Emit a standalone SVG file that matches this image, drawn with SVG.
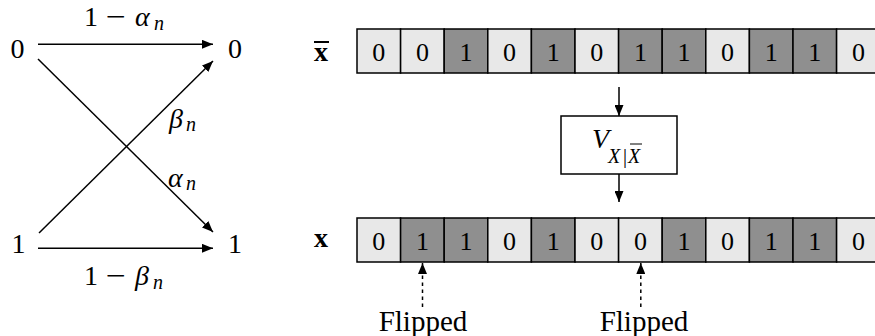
<svg xmlns="http://www.w3.org/2000/svg" width="875" height="336" viewBox="0 0 875 336">
<defs>
<marker id="ah" viewBox="0 0 11 9" refX="11" refY="4.5" markerWidth="11" markerHeight="9" orient="auto" markerUnits="userSpaceOnUse">
<path d="M0,0 L11,4.5 L0,9 z" fill="#000"/>
</marker>
</defs>
<style>
.t{font-family:"Liberation Serif","Times New Roman",serif;fill:#000}
.m{font-size:28px}
.i{font-style:italic}
.s{font-size:20px}
.c{text-anchor:middle}
.ln{stroke:#000;stroke-width:1.5;fill:none}
.d{font-size:26px;text-anchor:middle}
.b0{fill:#e8e8e8;stroke:#000;stroke-width:1.5}
.b1{fill:#8f8f8f;stroke:#000;stroke-width:1.5}
</style>
<rect width="875" height="336" fill="#fff"/>

<g id="connectors">
<line class="ln" x1="38" y1="44.3" x2="213" y2="44.3" marker-end="url(#ah)"/>
<line class="ln" x1="38" y1="248.3" x2="213" y2="248.3" marker-end="url(#ah)"/>
<line class="ln" x1="38" y1="59" x2="213" y2="232" marker-end="url(#ah)"/>
<line class="ln" x1="39" y1="233" x2="213" y2="61" marker-end="url(#ah)"/>
<line class="ln" x1="619" y1="87" x2="619" y2="116" marker-end="url(#ah)"/>
<line class="ln" x1="619" y1="174" x2="619" y2="202" marker-end="url(#ah)"/>
<line class="ln" x1="422.5" y1="307" x2="422.5" y2="263" stroke-dasharray="3.5 3.5" marker-end="url(#ah)"/>
<line class="ln" x1="640.8" y1="307" x2="640.8" y2="263" stroke-dasharray="3.5 3.5" marker-end="url(#ah)"/>
</g>

<g id="edge-labels">
<text class="t m" x="84" y="26">1</text>
<text class="t m" x="106" y="26" textLength="20" lengthAdjust="spacingAndGlyphs">−</text>
<text class="t m i" x="135" y="26">α</text>
<text class="t s i" x="154" y="30">n</text>
<text class="t m" x="84" y="285">1</text>
<text class="t m" x="106" y="285" textLength="20" lengthAdjust="spacingAndGlyphs">−</text>
<text class="t m i" x="135" y="285">β</text>
<text class="t s i" x="153" y="289">n</text>
<text class="t m i" x="169" y="128">β</text>
<text class="t s i" x="186" y="131">n</text>
<text class="t m i" x="168" y="187">α</text>
<text class="t s i" x="186" y="190">n</text>
</g>

<g id="in0"><text class="t m c" x="17.5" y="58">0</text></g>
<g id="in1"><text class="t m c" x="18.5" y="253">1</text></g>
<g id="out0"><text class="t m c" x="235" y="58">0</text></g>
<g id="out1"><text class="t m c" x="235" y="253">1</text></g>

<g id="label-xbar">
<text class="t m" x="314" y="61" font-weight="bold">x</text>
<line x1="314" y1="42" x2="329" y2="42" stroke="#000" stroke-width="2"/>
</g>
<g id="label-x">
<text class="t m" x="314" y="247" font-weight="bold">x</text>
</g>

<g id="row-xbar">
<rect class="b0" x="357" y="29" width="43.6" height="44"/>
<rect class="b0" x="400.6" y="29" width="43.6" height="44"/>
<rect class="b1" x="444.2" y="29" width="43.6" height="44"/>
<rect class="b0" x="487.8" y="29" width="43.6" height="44"/>
<rect class="b1" x="531.4" y="29" width="43.6" height="44"/>
<rect class="b0" x="575" y="29" width="43.6" height="44"/>
<rect class="b1" x="618.6" y="29" width="43.6" height="44"/>
<rect class="b1" x="662.2" y="29" width="43.6" height="44"/>
<rect class="b0" x="705.8" y="29" width="43.6" height="44"/>
<rect class="b1" x="749.4" y="29" width="43.6" height="44"/>
<rect class="b1" x="793" y="29" width="43.6" height="44"/>
<rect class="b0" x="836.6" y="29" width="43.6" height="44"/>
<text class="t d" x="378.8" y="61">0</text>
<text class="t d" x="422.4" y="61">0</text>
<text class="t d" x="466" y="61">1</text>
<text class="t d" x="509.6" y="61">0</text>
<text class="t d" x="553.2" y="61">1</text>
<text class="t d" x="596.8" y="61">0</text>
<text class="t d" x="640.4" y="61">1</text>
<text class="t d" x="684" y="61">1</text>
<text class="t d" x="727.6" y="61">0</text>
<text class="t d" x="771.2" y="61">1</text>
<text class="t d" x="814.8" y="61">1</text>
<text class="t d" x="858.4" y="61">0</text>
</g>

<g id="channel-box">
<rect x="561" y="116" width="116" height="58" fill="#fff" stroke="#000" stroke-width="1.5"/>
<text class="t m i" x="592" y="148">V</text>
<text class="t s i" x="608" y="163">X</text>
<text class="t s" x="623" y="163">|</text>
<text class="t s i" x="628" y="163">X</text>
<line x1="630" y1="144" x2="642" y2="144" stroke="#000" stroke-width="1"/>
</g>

<g id="row-x">
<rect class="b0" x="357" y="218" width="43.6" height="44"/>
<rect class="b1" x="400.6" y="218" width="43.6" height="44"/>
<rect class="b1" x="444.2" y="218" width="43.6" height="44"/>
<rect class="b0" x="487.8" y="218" width="43.6" height="44"/>
<rect class="b1" x="531.4" y="218" width="43.6" height="44"/>
<rect class="b0" x="575" y="218" width="43.6" height="44"/>
<rect class="b0" x="618.6" y="218" width="43.6" height="44"/>
<rect class="b1" x="662.2" y="218" width="43.6" height="44"/>
<rect class="b0" x="705.8" y="218" width="43.6" height="44"/>
<rect class="b1" x="749.4" y="218" width="43.6" height="44"/>
<rect class="b1" x="793" y="218" width="43.6" height="44"/>
<rect class="b0" x="836.6" y="218" width="43.6" height="44"/>
<text class="t d" x="378.8" y="250">0</text>
<text class="t d" x="422.4" y="250">1</text>
<text class="t d" x="466" y="250">1</text>
<text class="t d" x="509.6" y="250">0</text>
<text class="t d" x="553.2" y="250">1</text>
<text class="t d" x="596.8" y="250">0</text>
<text class="t d" x="640.4" y="250">0</text>
<text class="t d" x="684" y="250">1</text>
<text class="t d" x="727.6" y="250">0</text>
<text class="t d" x="771.2" y="250">1</text>
<text class="t d" x="814.8" y="250">1</text>
<text class="t d" x="858.4" y="250">0</text>
</g>

<g id="flipped-1"><text class="t c" x="423" y="331" font-size="29">Flipped</text></g>
<g id="flipped-2"><text class="t c" x="644" y="331" font-size="29">Flipped</text></g>
</svg>
